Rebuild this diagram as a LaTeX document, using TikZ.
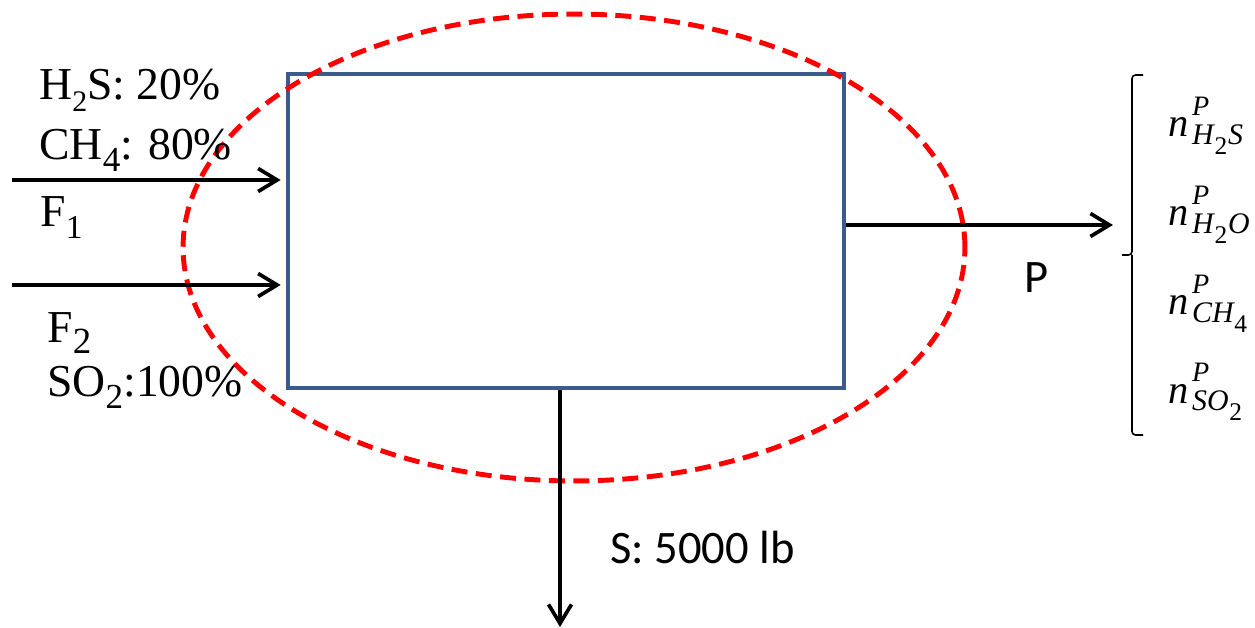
\documentclass[tikz,border=0pt]{standalone}
\usepackage{amsmath}
\usepackage{fontspec}
\setmainfont{Liberation Serif}
\newfontfamily\calibri{Carlito}
\usepackage{tikz}
\usetikzlibrary{arrows.meta,shapes.geometric}
\definecolor{boxblue}{RGB}{59,92,138}
% subscripts as the labels show them
\newcommand{\tsub}[2]{\raisebox{-6.5pt}{\fontsize{#1}{#1}\selectfont #2}}
\newcommand{\ssub}[1]{\kern0.5pt\raisebox{-5.5pt}{\fontsize{14.5pt}{15pt}\selectfont\upshape #1}\kern0.5pt}
\newcommand{\nP}[1]{\textit{n}\kern2pt\rlap{\raisebox{12.5pt}{\fontsize{16pt}{16pt}\selectfont\itshape P}}\raisebox{-4.5pt}{\fontsize{17pt}{17pt}\selectfont\itshape #1}}

\begin{document}
\begin{tikzpicture}[x=0.02cm,y=-0.02cm,
    flow/.style={draw=black,line width=2.1pt,-{Straight Barb[length=0.38cm,width=0.46cm,line width=2.1pt]}},
    serif/.style={anchor=base west,inner sep=0pt,font=\fontsize{26pt}{30pt}\selectfont},
    sans/.style={anchor=base west,inner sep=0pt,font=\calibri\fontsize{26.5pt}{30pt}\selectfont},
    comp/.style={anchor=base west,inner sep=0pt,font=\fontsize{23pt}{26pt}\selectfont}]
    \useasboundingbox (0,0) rectangle (1255,628);
    % unit and system boundary
    \node[draw=boxblue,line width=2.7pt,minimum width=11.12cm,minimum height=6.28cm,inner sep=0pt] (unit) at (566,231) {};
    \node[draw=red,dashed,dash pattern=on 0.32cm off 0.17cm,line width=2.8pt,ellipse,minimum width=15.64cm,minimum height=9.34cm,inner sep=0pt] (bound) at (574,247.5) {};
    % streams
    \coordinate (f1) at (12,180);
    \coordinate (f2) at (12,285);
    \coordinate (pout) at (1113,225);
    \coordinate (sout) at (560,627);
    \draw[flow,shorten >=0.1cm] (f1) -- (f1 -| unit.west);
    \draw[flow,shorten >=0.1cm] (f2) -- (f2 -| unit.west);
    \draw[flow] (pout -| unit.east) -- (pout);
    \draw[flow] (sout |- unit.south) -- (sout);
    % labels
    \node[serif] (h2s) at (39,100) {H\tsub{17pt}{2}S: 20\%};
    \node[serif] (ch4) at (39,160) {CH\tsub{20pt}{4}: 80\%};
    \node[serif] (lf1) at (40,227) {F\tsub{19pt}{1}};
    \node[serif] (lf2) at (47,342) {F\tsub{21pt}{2}};
    \node[serif] (so2) at (47,397) {SO\tsub{20pt}{2}:100\%};
    \node[sans] (lp) at (1024,293) {P};
    \node[sans] (ls) at (610,563) {S: 5000 lb};
    % product composition
    \draw[line width=0.9pt,rounded corners=2pt] (1143,75) -- (1132,75) -- (1132,255) -- (1122,255)
        (1132,255) -- (1132,435) -- (1143,435);
    \node[comp] (nh2s) at (1168,137) {\nP{H\ssub{2}S}};
    \node[comp] (nh2o) at (1168,226) {\nP{H\ssub{2}O}};
    \node[comp] (nch4) at (1168,315) {\nP{CH\ssub{4}}};
    \node[comp] (nso2) at (1168,403) {\nP{SO\ssub{2}}};
\end{tikzpicture}
\end{document}
